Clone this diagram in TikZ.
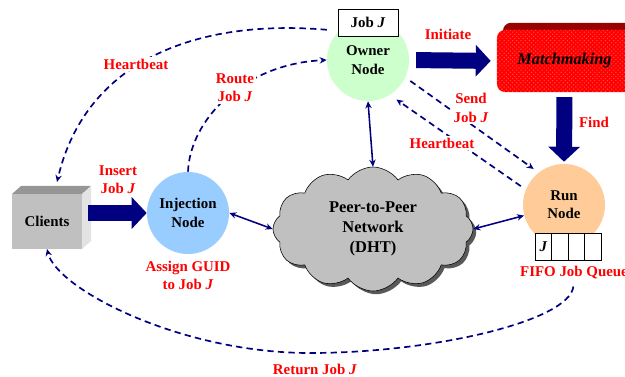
\documentclass[tikz,border=0pt]{standalone}
\usepackage{fontspec}
\setmainfont{Liberation Serif}
\usetikzlibrary{positioning,arrows.meta,shapes.symbols,shadows,patterns}

\definecolor{navy}{RGB}{0,0,128}
\definecolor{injblue}{HTML}{99CCFF}
\definecolor{ownergreen}{HTML}{CCFFCC}
\definecolor{runorange}{HTML}{FFCC99}
\definecolor{cloudgray}{HTML}{C0C0C0}
\definecolor{clientgray}{HTML}{C0C0C0}
\definecolor{clienttop}{HTML}{969696}
\definecolor{clientside}{HTML}{E3E3E3}
\definecolor{matchred}{HTML}{FF0000}
\definecolor{matchdark}{HTML}{990000}

\begin{document}
\begin{tikzpicture}[x=0.025cm, y=-0.025cm,
					every node/.style={font=\fontsize{10.6}{13}\selectfont\bfseries},
					peernode/.style={circle,
					inner sep=0pt,
					minimum size=2.05cm,
					align=center},
					clientface/.style={rectangle,
					fill=clientgray,
					outer sep=0pt,
					minimum width=1.75cm,
					minimum height=1.375cm},
					matchbox/.style={rectangle,
					rounded corners=0.2cm,
					fill=matchred,
					minimum width=3.375cm,
					minimum height=1.55cm,
					general shadow={shadow xshift=0.15cm, shadow yshift=0.18cm, fill=matchdark},
					postaction={pattern=crosshatch dots, pattern color=red!70!white},
					font=\fontsize{11.6}{14}\selectfont\bfseries\itshape},
					queuecell/.style={draw,
					fill=white,
					inner sep=0pt,
					outer sep=0pt,
					minimum width=0.41cm,
					minimum height=0.675cm},
					redlabel/.style={text=red, align=center, fill=white, inner sep=1.5pt},
					bigarrow/.style={navy, line width=0.4cm, -{Triangle[length=0.375cm, width=0.775cm]}},
					dashlink/.style={navy, line width=1.2pt, dash pattern=on 4.5pt off 3pt, -{Stealth[length=5pt, width=4.5pt]}},
					dhtlink/.style={navy, line width=1.1pt, {Stealth[length=5pt, width=4.5pt]}-{Stealth[length=5pt, width=4.5pt]}}
					]

\useasboundingbox (0,0) rectangle (625,376);

% peers
\node[peernode, fill=injblue] (inject) at (188,213) {Injection\\Node};
\node[peernode, fill=ownergreen] (owner) at (368,60) {Owner\\Node};
\node[peernode, fill=runorange] (run) at (564,205) {Run\\Node};

% DHT cloud
\node[cloud, cloud puffs=12, cloud puff arc=110, cloud ignores aspect,
      minimum width=5cm, minimum height=3.1cm, draw, fill=cloudgray, align=center,
      drop shadow={shadow xshift=0.08cm, shadow yshift=-0.08cm, fill=black!65, opacity=1},
      font=\fontsize{11.7}{14.2}\selectfont\bfseries] (dht) at (373,229) {Peer-to-Peer\\Network\\(DHT)};

% clients box (front, top, side)
\node[clientface] (clients) at (47,221.5) {Clients};
\fill[clienttop] (clients.north west) -- ++(9,-8) -- ++(70,0) -- (clients.north east) -- cycle;
\fill[clientside] (clients.north east) -- ++(9,-8) -- ++(0,55) -- (clients.south east) -- cycle;

% matchmaking
\node[matchbox] (match) at (564.5,61) {Matchmaking};

% job tag and queue
\node[draw, fill=white, inner sep=0pt, minimum width=1.5cm, minimum height=0.675cm] (jobtag) at (368,22.5) {Job \textit{J}};
\node[queuecell] (q1) at (543.5,246.5) {\textit{J}};
\foreach \i [count=\j] in {2,3,4}
	\node[queuecell, right=0pt of q\j] (q\i) {};

% big arrows
\draw[bigarrow] ([xshift=0.15cm]clients.east |- inject.west) -- (inject.west);
\draw[bigarrow, shorten <=0.17cm, shorten >=0.15cm] (owner.east) -- (match.west);
\draw[bigarrow, shorten <=0.12cm, shorten >=0.05cm] (match.south) -- (run.north);

% DHT links
\draw[dhtlink] (inject.east) -- (dht.west);
\draw[dhtlink] (owner.south) -- (dht.north);
\draw[dhtlink] (dht.east) -- (run);

% dashed messages
\coordinate (clientstop) at ([shift={(0.25cm,0.3cm)}]clients.north);
\draw[dashlink, shorten <=0.3cm] (owner.135) .. controls +(-140,-12) and +(29,-123) .. (clientstop);
\draw[dashlink] (inject.north) .. controls +(2,-52) and +(-83,4) .. (owner.west);
\draw[dashlink, shorten <=0.15cm, shorten >=0.15cm] (owner.-25) -- (run.128);
\draw[dashlink, shorten <=0.15cm, shorten >=0.2cm] (run.158) -- (owner.-58);

\node[redlabel] (fifo) at (574,273) {FIFO Job Queue};
\draw[dashlink, shorten <=0.12cm] (fifo.south) .. controls +(-5,40) and +(120,0) .. (310,353)
	.. controls +(-130,0) and +(10,40) .. (clients.south);

% labels
\node[redlabel] (hbtop) at (136,64) {Heartbeat};
\node[redlabel] (route) at (235,88) {Route\\Job \textit{J}};
\node[redlabel] (insert) at (118,180) {Insert\\Job \textit{J}};
\node[redlabel, below=0.1cm of inject] (assign) {Assign GUID\\to Job \textit{J}};
\node[redlabel] (initiate) at (448,34) {Initiate};
\node[redlabel] (send) at (471,108) {Send\\Job \textit{J}};
\node[redlabel] (find) at (594,122) {Find};
\node[redlabel] (hbmid) at (442,143) {Heartbeat};
\node[redlabel] (return) at (315,369) {Return Job \textit{J}};

\end{tikzpicture}
\end{document}
